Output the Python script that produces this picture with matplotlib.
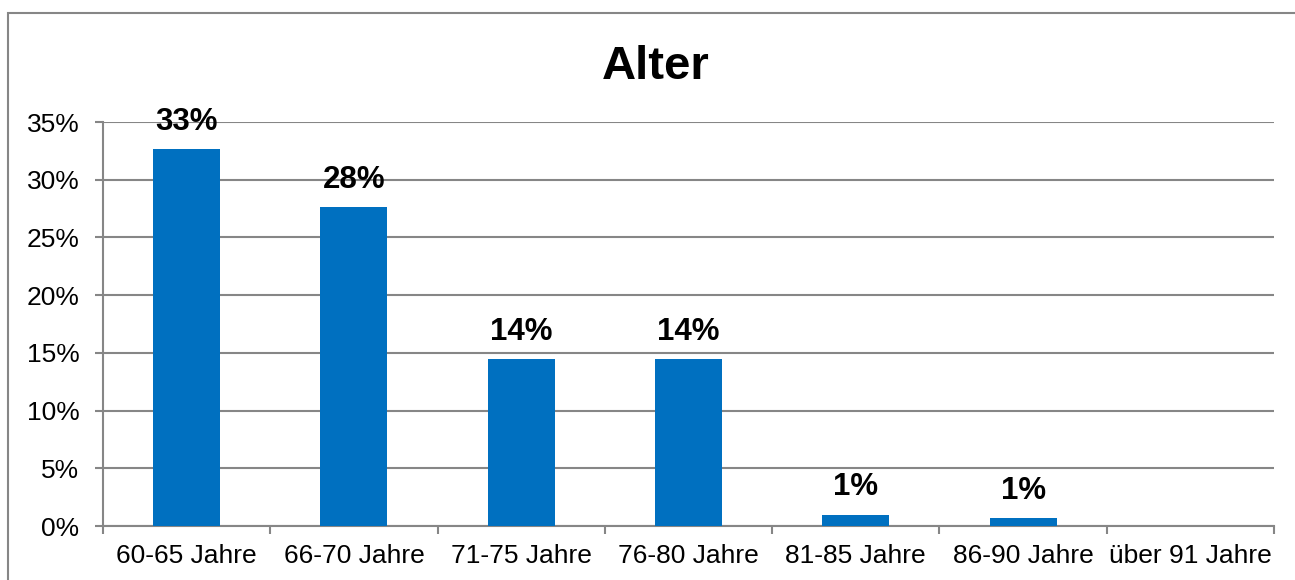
import matplotlib.pyplot as plt
from matplotlib.patches import Rectangle

categories = ["60-65 Jahre", "66-70 Jahre", "71-75 Jahre", "76-80 Jahre",
              "81-85 Jahre", "86-90 Jahre", "über 91 Jahre"]
values = [32.65, 27.6, 14.45, 14.45, 0.96, 0.69, 0.0]
yticks = [0, 5, 10, 15, 20, 25, 30, 35]

plt.rcParams["font.family"] = ["Liberation Sans", "DejaVu Sans"]
gray = "#868686"

fig = plt.figure(figsize=(12.95, 5.8), dpi=100)
ax = fig.add_axes([103 / 1295, 54 / 580, (1274 - 103) / 1295, (526 - 122) / 580])

# outer chart frame
fig.patches.append(Rectangle((8 / 1295, -0.1), 1.2, 0.1 + 567 / 580,
                             transform=fig.transFigure, fill=False,
                             edgecolor=gray, linewidth=1.5))

x = list(range(len(categories)))
ax.bar(x, values, width=0.4, color="#0070C0", zorder=3)

for xi, v in zip(x, values):
    if v > 0:
        ax.annotate(f"{v:.0f}%", (xi, v), xytext=(0, 9), textcoords="offset points",
                    ha="center", va="bottom", fontsize=22.5, fontweight="bold")

ax.set_xlim(-0.5, len(categories) - 0.5)
ax.set_ylim(0, 35)
ax.set_yticks(yticks)
ax.set_yticklabels([f"{t}%" for t in yticks], fontsize=19)
ax.yaxis.grid(True, color=gray, linewidth=1.5, zorder=0)
ax.tick_params(axis="y", length=6, width=1.5, color=gray, pad=11)

ax.set_xticks([i - 0.5 for i in range(len(categories) + 1)])
ax.set_xticklabels([])
ax.set_xticks(x, minor=True)
ax.set_xticklabels(categories, minor=True, fontsize=19)
ax.tick_params(axis="x", which="major", length=6, width=1.5, color=gray)
ax.tick_params(axis="x", which="minor", length=0, pad=13)

for side in ["top", "right"]:
    ax.spines[side].set_visible(False)
for side in ["left", "bottom"]:
    ax.spines[side].set_color(gray)
    ax.spines[side].set_linewidth(1.5)

fig.text(656 / 1295, 1 - 67 / 580, "Alter", ha="center", va="center",
         fontsize=34, fontweight="bold")

fig.savefig("out.png", dpi=100)
